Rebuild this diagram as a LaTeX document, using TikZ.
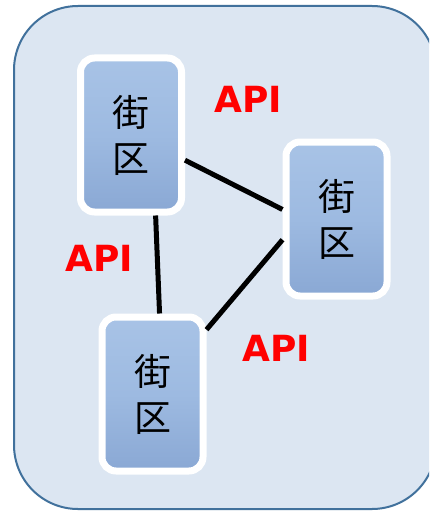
\documentclass[tikz,border=0pt]{standalone}
\usepackage{fontspec}
\newfontfamily\cjk{Noto Sans CJK JP}
\newfontfamily\apifont{DejaVu Sans}
\usetikzlibrary{shadows}
\definecolor{panelfill}{RGB}{220,230,242}
\definecolor{panelline}{RGB}{65,113,156}
\definecolor{blocktop}{RGB}{168,195,230}
\definecolor{blockmid}{RGB}{157,186,225}
\definecolor{blockbot}{RGB}{138,168,212}
\definecolor{apired}{RGB}{255,0,0}
\begin{document}
\begin{tikzpicture}[x=1pt,y=-1pt,
  block/.style={draw=white, line width=7pt, rounded corners=14pt,
    minimum width=101pt, minimum height=154pt,
    top color=blocktop, bottom color=blockbot, middle color=blockmid,
    font=\cjk\fontsize{37}{46}\selectfont, align=center, inner sep=0pt,
    drop shadow={opacity=0.22, shadow xshift=1pt, shadow yshift=-2pt}},
  link/.style={line width=5pt, black},
  api/.style={text=apired, font=\apifont\bfseries\fontsize{36}{40}\selectfont, inner sep=0pt}]
  % canvas
  \fill[white] (0,0) rectangle (429,511);
  \useasboundingbox (0,0) rectangle (429,511);
  \clip (0,0) rectangle (429,511);
  % background panel
  \path[draw=panelline, fill=panelfill, line width=2pt, rounded corners=64pt]
    (14,6) rectangle (436,509);
  % block centres
  \coordinate (c1) at (131,135);
  \coordinate (c2) at (336.5,219);
  \coordinate (c3) at (152.5,394);
  % blocks
  \node[block] (b1) at (c1) {街\\区};
  \node[block] (b2) at (c2) {街\\区};
  \node[block] (b3) at (c3) {街\\区};
  % connectors
  \draw[link] (b1.-25) -- (b2.170);
  \draw[link] (b1.-73) -- (b3.85);
  \draw[link] (b2.201) -- (b3.50);
  % labels
  \node[api] (a1) at (248,99) {API};
  \node[api] (a2) at (99,258) {API};
  \node[api] (a3) at (276,348) {API};
\end{tikzpicture}
\end{document}
